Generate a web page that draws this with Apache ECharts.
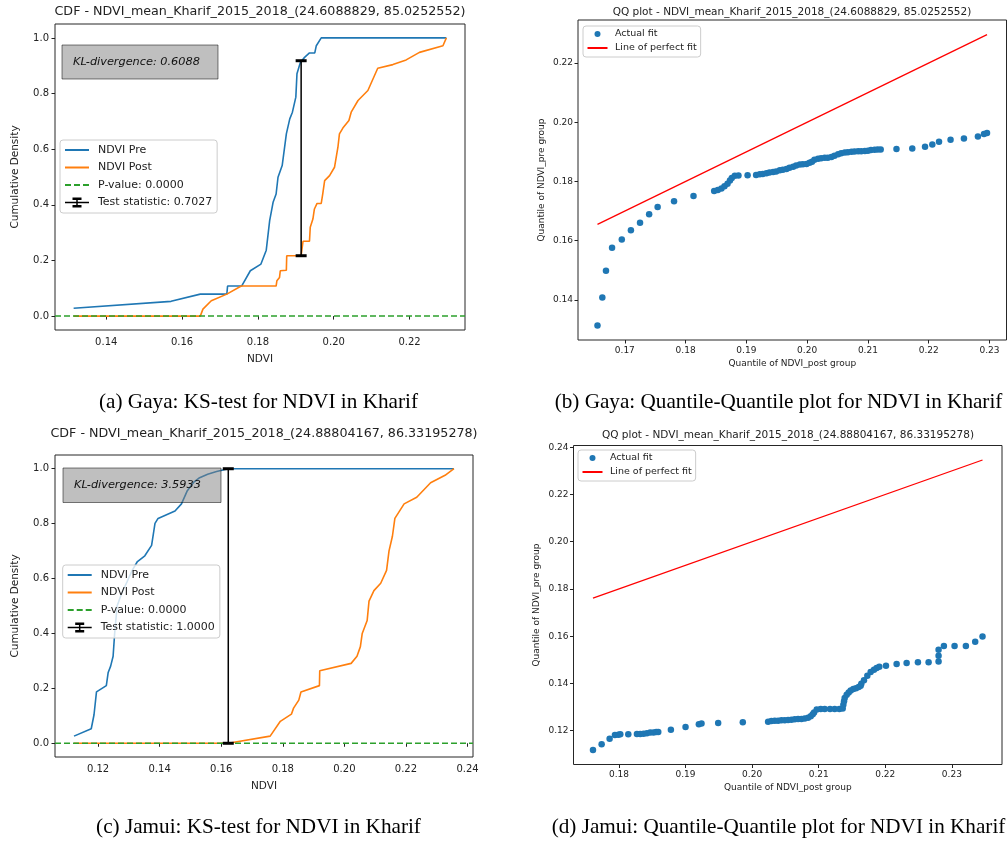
<!DOCTYPE html>
<html><head><meta charset="utf-8">
<script src="https://cdn.jsdelivr.net/npm/echarts@6/dist/echarts.min.js"></script>
<style>html,body{margin:0;padding:0;background:#fff}#c{width:1008px;height:841px}</style>
</head><body><div id="c"></div><script>
// ---------- DATA ----------
// (a) Gaya CDF
const preA_x  = [0.1314,0.1571,0.1648,0.1718,0.1720,0.1757,0.1780,0.1808,0.1822,0.1831,0.1840,0.1848,0.1853,0.1864,0.1875,0.1884,0.1891,0.1900,0.1903,0.1912,0.1923,0.1936,0.1950,0.1954,0.1967,0.2297];
const preA_y  = [0.028,0.053,0.079,0.079,0.108,0.108,0.163,0.187,0.237,0.343,0.409,0.439,0.499,0.541,0.655,0.709,0.733,0.787,0.871,0.912,0.930,0.946,0.946,0.972,1.0,1.0];
const postA_x = [0.1314,0.1648,0.1655,0.1677,0.1718,0.1756,0.1848,0.1850,0.1857,0.1859,0.1875,0.1876,0.1914,0.1919,0.1936,0.1938,0.1945,0.1949,0.1956,0.1967,0.1971,0.1976,0.1989,0.2002,0.2011,0.2015,0.2024,0.2040,0.2046,0.2064,0.2090,0.2116,0.2156,0.2191,0.2226,0.2288,0.2297];
const postA_y = [0,0,0.025,0.055,0.079,0.108,0.108,0.127,0.139,0.163,0.165,0.217,0.217,0.269,0.269,0.319,0.349,0.385,0.405,0.405,0.439,0.487,0.505,0.535,0.607,0.655,0.676,0.703,0.733,0.775,0.811,0.891,0.904,0.921,0.948,0.972,1.0];
const ksA = [0.1914, 0.217, 0.918];   // x, lower, upper
const statA = 0.7027, pvalA = 0.0000, klA = 0.6088;

// (c) Jamui CDF
const preC_x  = [0.1122,0.1178,0.1187,0.1195,0.1227,0.1233,0.1241,0.1249,0.1254,0.1262,0.1278,0.1295,0.1311,0.1328,0.1352,0.1374,0.1385,0.1395,0.1450,0.1471,0.1490,0.1510,0.1528,0.1556,0.1585,0.1623,0.2356];
const preC_y  = [0.026,0.053,0.104,0.187,0.210,0.258,0.281,0.317,0.400,0.500,0.550,0.590,0.630,0.662,0.683,0.721,0.801,0.819,0.846,0.872,0.920,0.950,0.966,0.980,0.990,1.0,1.0];
const postC_x = [0.1122,0.1623,0.1759,0.1792,0.1828,0.1835,0.1852,0.1859,0.1919,0.1920,0.2022,0.2041,0.2052,0.2058,0.2074,0.2080,0.2096,0.2118,0.2137,0.2145,0.2156,0.2164,0.2194,0.2235,0.2280,0.2327,0.2356];
const postC_y = [0,0,0.026,0.080,0.106,0.128,0.157,0.187,0.210,0.264,0.291,0.317,0.352,0.400,0.447,0.518,0.556,0.583,0.630,0.701,0.754,0.819,0.872,0.896,0.949,0.976,1.0];
const ksC = [0.1623, 0.0, 1.0];
const statC = 1.0000, pvalC = 0.0000, klC = 3.5933;

// (b) Gaya QQ
const qqB_post = [0.1655,0.1663,0.1669,0.1679,0.1695,0.1710,0.1725,0.1740,0.1754,0.1781,0.1813,0.1847,0.1853,0.1859,0.1864,0.1869,0.1873,0.1876,0.1881,0.1887,0.1902,
  0.1916,0.1922,0.1927,0.1933,0.1938,0.1944,0.1949,0.1955,0.1960,0.1966,0.1971,0.1977,0.1982,0.1988,0.1993,0.1999,0.2004,0.2008,0.2012,0.2018,0.2023,0.2029,0.2034,0.2040,0.2045,0.2051,0.2056,0.2062,0.2067,0.2073,0.2078,0.2084,0.2089,0.2095,0.2100,0.2105,0.2111,0.2116,0.2121,
  0.2147,0.2173,0.2194,0.2206,0.2217,0.2236,0.2258,0.2281,0.2291,0.2296];
const qqB_pre = [0.1314,0.1408,0.1499,0.1576,0.1604,0.1635,0.1661,0.1689,0.1714,0.1733,0.1751,0.1768,0.1771,0.1776,0.1784,0.1792,0.1803,0.1812,0.1819,0.1820,0.1821,
  0.1822,0.1824,0.1825,0.1828,0.1830,0.1832,0.1834,0.1838,0.1840,0.1842,0.1846,0.1850,0.1854,0.1857,0.1858,0.1859,0.1863,0.1867,0.1873,0.1877,0.1878,0.1880,0.1880,0.1883,0.1887,0.1892,0.1895,0.1898,0.1899,0.1900,0.1901,0.1902,0.1902,0.1903,0.1904,0.1906,0.1907,0.1908,0.1908,
  0.1910,0.1911,0.1917,0.1925,0.1934,0.1941,0.1945,0.1952,0.1960,0.1964];

// (d) Jamui QQ
const qqD_post = [0.1761,0.1774,0.1786,0.1794,0.1799,0.1802,0.1814,0.1827,0.1832,0.1837,0.1842,0.1847,0.1852,0.1856,0.1859,0.1878,0.1900,0.1920,0.1924,0.1949,0.1986,
  0.2024,0.2029,0.2034,0.2039,0.2044,0.2049,0.2054,0.2059,0.2064,0.2069,0.2074,0.2079,0.2084,0.2088,0.2091,0.2093,0.2097,0.2103,0.2109,0.2117,0.2124,0.2131,0.2136,
  0.2137,0.2138,0.2139,0.2142,0.2145,0.2148,0.2152,0.2156,0.2160,0.2163,0.2164,0.2168,0.2173,0.2178,0.2183,0.2187,0.2191,0.2201,0.2217,0.2232,0.2249,0.2265,0.2280,0.2280,0.2280,0.2288,0.2304,0.2321,0.2335,0.2346];
const qqD_pre = [0.1118,0.1142,0.1166,0.1182,0.1183,0.1185,0.1185,0.1186,0.1186,0.1187,0.1189,0.1192,0.1192,0.1194,0.1194,0.1204,0.1215,0.1227,0.1230,0.1232,0.1235,
  0.1238,0.1241,0.1242,0.1242,0.1244,0.1244,0.1245,0.1246,0.1248,0.1249,0.1249,0.1251,0.1255,0.1261,0.1269,0.1277,0.1289,0.1292,0.1292,0.1292,0.1292,0.1292,0.1294,
  0.1310,0.1324,0.1338,0.1352,0.1362,0.1370,0.1376,0.1380,0.1385,0.1390,0.1399,0.1413,0.1432,0.1448,0.1458,0.1465,0.1470,0.1475,0.1482,0.1486,0.1490,0.1490,0.1493,0.1517,0.1542,0.1558,0.1558,0.1558,0.1576,0.1599];

// tick labels
const ticksAx = [0.14,0.16,0.18,0.20,0.22];
const ticksCx = [0.12,0.14,0.16,0.18,0.20,0.22,0.24];
const ticksCdfY = [0.0,0.2,0.4,0.6,0.8,1.0];
const ticksBx = [0.17,0.18,0.19,0.20,0.21,0.22,0.23];
const ticksBy = [0.14,0.16,0.18,0.20,0.22];
const ticksDx = [0.18,0.19,0.20,0.21,0.22,0.23];
const ticksDy = [0.12,0.14,0.16,0.18,0.20,0.22,0.24];

// text
const titleA = 'CDF - NDVI_mean_Kharif_2015_2018_(24.6088829, 85.0252552)';
const titleB = 'QQ plot - NDVI_mean_Kharif_2015_2018_(24.6088829, 85.0252552)';
const titleC = 'CDF - NDVI_mean_Kharif_2015_2018_(24.88804167, 86.33195278)';
const titleD = 'QQ plot - NDVI_mean_Kharif_2015_2018_(24.88804167, 86.33195278)';
const capA = '(a) Gaya: KS-test for NDVI in Kharif';
const capB = '(b) Gaya: Quantile-Quantile plot for NDVI in Kharif';
const capC = '(c) Jamui: KS-test for NDVI in Kharif';
const capD = '(d) Jamui: Quantile-Quantile plot for NDVI in Kharif';

// ---------- BUILD ----------
const FF = '"DejaVu Sans", sans-serif';
const SERIF = '"Liberation Serif", "DejaVu Serif", serif';
const zip = (a, b) => a.map((v, i) => [v, b[i]]);
const lim = (arr) => { const lo = Math.min(...arr), hi = Math.max(...arr), r = hi - lo; return [lo - 0.05 * r, hi + 0.05 * r]; };

const xLimA = lim(preA_x.concat(postA_x)), yLimA = lim(preA_y.concat(postA_y));
const xLimC = lim(preC_x.concat(postC_x)), yLimC = lim(preC_y.concat(postC_y));
const xLimB = lim(qqB_post), yLimB = lim(qqB_pre.concat(qqB_post));
const xLimD = lim(qqD_post), yLimD = lim(qqD_pre.concat(qqD_post));

function axis(gi, l, ticks, dec, fs, name, nameGap, nameFs, margin) {
  return {
    type: 'value', gridIndex: gi, min: l[0], max: l[1], scale: true,
    name: name, nameLocation: 'middle', nameGap: nameGap,
    nameTextStyle: { fontFamily: FF, fontSize: nameFs, color: '#222' },
    axisLine: { show: false }, splitLine: { show: false },
    axisTick: { show: true, length: 3.5, customValues: ticks, lineStyle: { color: '#222', width: 1 } },
    axisLabel: { customValues: ticks, formatter: v => v.toFixed(dec), fontFamily: FF, fontSize: fs, color: '#222', margin: margin }
  };
}

const gridBase = { show: true, borderColor: '#262626', borderWidth: 1, backgroundColor: 'transparent', containLabel: false };
const grids = [
  Object.assign({ left: 55, top: 24, width: 410, height: 306 }, gridBase),
  Object.assign({ left: 578, top: 20, width: 428.5, height: 320 }, gridBase),
  Object.assign({ left: 55, top: 455, width: 418, height: 302 }, gridBase),
  Object.assign({ left: 573.5, top: 445.5, width: 428.5, height: 319 }, gridBase)
];

const xAxes = [
  axis(0, xLimA, ticksAx, 2, 10, 'NDVI', 24, 10.5, 7),
  axis(1, xLimB, ticksBx, 2, 9, 'Quantile of NDVI_post group', 19, 9, 6),
  axis(2, xLimC, ticksCx, 2, 10, 'NDVI', 24, 10.5, 7),
  axis(3, xLimD, ticksDx, 2, 9, 'Quantile of NDVI_post group', 19, 9, 6)
];
const yAxes = [
  axis(0, yLimA, ticksCdfY, 1, 10, 'Cumulative Density', 34, 10.5, 6),
  axis(1, yLimB, ticksBy, 2, 9, 'Quantile of NDVI_pre group', 32, 9, 5),
  axis(2, yLimC, ticksCdfY, 1, 10, 'Cumulative Density', 34, 10.5, 6),
  axis(3, yLimD, ticksDy, 2, 9, 'Quantile of NDVI_pre group', 32, 9, 5)
];

const BLUE = '#1f77b4', ORANGE = '#ff7f0e', GREEN = '#2ca02c', RED = '#ff0000';
function cdfSeries(gi, preX, preY, postX, postY, xl, ks, stat, pval) {
  return [
    { type: 'line', name: 'NDVI Pre', xAxisIndex: gi, yAxisIndex: gi, data: zip(preX, preY), symbol: 'none', lineStyle: { color: BLUE, width: 1.6 }, itemStyle: { color: BLUE } },
    { type: 'line', name: 'NDVI Post', xAxisIndex: gi, yAxisIndex: gi, data: zip(postX, postY), symbol: 'none', lineStyle: { color: ORANGE, width: 1.6 }, itemStyle: { color: ORANGE } },
    { type: 'line', name: 'P-value: ' + pval.toFixed(4), xAxisIndex: gi, yAxisIndex: gi, data: [[xl[0], 0], [xl[1], 0]], symbol: 'none', lineStyle: { color: GREEN, width: 1.5, type: [6, 3] }, itemStyle: { color: GREEN } },
    { type: 'line', name: 'Test statistic: ' + stat.toFixed(4), xAxisIndex: gi, yAxisIndex: gi, data: [[ks[0], ks[1]], [ks[0], ks[2]]], symbol: 'rect', symbolSize: [11, 3], showSymbol: true, lineStyle: { color: '#000', width: 1.5 }, itemStyle: { color: '#000' } }
  ];
}
function qqSeries(gi, post, pre) {
  const lo = Math.min(...post), hi = Math.max(...post);
  return [
    { type: 'scatter', name: 'Actual fit', xAxisIndex: gi, yAxisIndex: gi, data: zip(post, pre), symbolSize: 6.5, itemStyle: { color: BLUE, opacity: 1 } },
    { type: 'line', name: 'Line of perfect fit', xAxisIndex: gi, yAxisIndex: gi, data: [[lo, lo], [hi, hi]], symbol: 'none', lineStyle: { color: RED, width: 1.3 }, itemStyle: { color: RED } }
  ];
}

const series = [].concat(
  cdfSeries(0, preA_x, preA_y, postA_x, postA_y, xLimA, ksA, statA, pvalA),
  qqSeries(1, qqB_post, qqB_pre),
  cdfSeries(2, preC_x, preC_y, postC_x, postC_y, xLimC, ksC, statC, pvalC),
  qqSeries(3, qqD_post, qqD_pre)
);
series.forEach(s => { s.animation = false; });

const NOSYM = { color: 'rgba(0,0,0,0)', borderWidth: 0, borderColor: 'rgba(0,0,0,0)' };
const errIcon = 'path://M0,4.25H24V5.75H0Z M11.25,0H12.75V10H11.25Z M7.5,0H16.5V2.5H7.5Z M7.5,7.5H16.5V10H7.5Z';
function cdfLegend(left, top, stat, pval) {
  return {
    orient: 'vertical', left: left, top: top, selectedMode: false,
    itemWidth: 24, itemHeight: 10, itemGap: 5.5, padding: [4, 5, 4.5, 4],
    backgroundColor: 'rgba(255,255,255,0.8)', borderColor: '#cccccc', borderWidth: 1, borderRadius: 3,
    textStyle: { fontFamily: FF, fontSize: 11, color: '#222', lineHeight: 12, padding: [0, 0, 0, 4] },
    data: [
      { name: 'NDVI Pre', itemStyle: NOSYM },
      { name: 'NDVI Post', itemStyle: NOSYM },
      { name: 'P-value: ' + pval.toFixed(4), itemStyle: NOSYM },
      { name: 'Test statistic: ' + stat.toFixed(4), icon: errIcon }
    ]
  };
}
function qqLegend(left, top) {
  return {
    orient: 'vertical', left: left, top: top, selectedMode: false,
    itemWidth: 20, itemHeight: 6, itemGap: 4, padding: [3, 4, 4, 3.5],
    backgroundColor: 'rgba(255,255,255,0.8)', borderColor: '#cccccc', borderWidth: 1, borderRadius: 3,
    textStyle: { fontFamily: FF, fontSize: 9.5, color: '#222', lineHeight: 10, padding: [0, 0, 0, 2.5] },
    data: ['Actual fit', { name: 'Line of perfect fit', itemStyle: NOSYM }]
  };
}

function txt(x, y, text, font, align) {
  return { type: 'text', x: x, y: y, z: 100, style: { text: text, font: font, fill: '#222', align: align || 'center', verticalAlign: 'middle' } };
}
function cap(x, y, text) {
  return { type: 'text', x: x, y: y, z: 100, style: { text: text, font: '21.2px ' + SERIF, fill: '#000', align: 'center', verticalAlign: 'middle' } };
}
function klBox(x, y, w, h, tx, val) {
  return [
    { type: 'rect', z: 100, shape: { x: x, y: y, width: w, height: h }, style: { fill: 'rgba(128,128,128,0.5)', stroke: 'rgba(0,0,0,0.5)', lineWidth: 1 } },
    { type: 'text', z: 101, x: tx, y: y + h / 2, style: { text: 'KL-divergence: ' + val.toFixed(4), font: 'italic 11.3px ' + FF, fill: '#111', align: 'left', verticalAlign: 'middle' } }
  ];
}

const graphic = [].concat(
  [txt(260, 12, titleA, '12.7px ' + FF), txt(792, 12, titleB, '10.5px ' + FF),
   txt(264, 434, titleC, '12.7px ' + FF), txt(788, 435, titleD, '10.5px ' + FF),
   cap(258.5, 402, capA), cap(778.5, 402, capB),
   cap(258.5, 827, capC), cap(778.5, 827, capD)],
  klBox(62, 45, 156, 34, 73, klA),
  klBox(63, 468, 158, 34.5, 74, klC)
);

const chart = echarts.init(document.getElementById('c'), null, { renderer: 'canvas' });
chart.setOption({
  backgroundColor: '#fff',
  animation: false,
  grid: grids, xAxis: xAxes, yAxis: yAxes, series: series,
  legend: [cdfLegend(60, 140, statA, pvalA), qqLegend(583, 26), cdfLegend(62.7, 565, statC, pvalC), qqLegend(578, 450)],
  graphic: graphic
});
</script></body></html>
